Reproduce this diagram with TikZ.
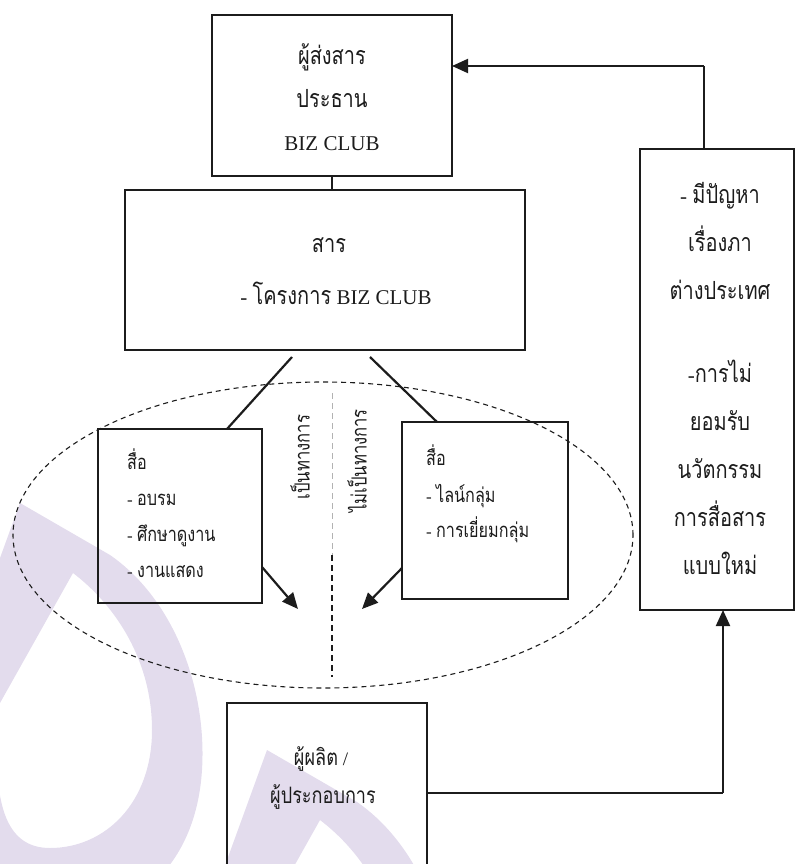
\documentclass[tikz,border=0pt]{standalone}
\usepackage{fontspec}
\setmainfont{Liberation Serif}
\newfontfamily\thaifont[Script=Thai,FakeStretch=0.8,Scale=1.19]{Loma}
\usetikzlibrary{arrows.meta}
\definecolor{ink}{RGB}{28,28,28}
\definecolor{wmark}{RGB}{227,220,237}
\tikzset{
  box/.style={draw=ink, line width=2.6pt, inner sep=0pt, outer sep=0pt},
  link/.style={draw=ink, line width=2.2pt},
  fine/.style={draw=ink, line width=1.2pt},
  heavy/.style={draw=ink, line width=2pt},
  head/.style={-{Triangle[length=16pt,width=14pt]}},
  txtL/.style={font=\fontsize{21}{25}\selectfont, inner sep=0pt, anchor=base, text=ink},
  txtM/.style={font=\fontsize{17}{20}\selectfont, inner sep=0pt, anchor=base west, text=ink},
  txtS/.style={font=\fontsize{19}{22}\selectfont, inner sep=0pt, anchor=base, text=ink},
  txtV/.style={font=\fontsize{17.5}{20}\selectfont, inner sep=0pt, rotate=90, text=ink},
  dashline/.style={line width=1.1pt, dash pattern=on 5pt off 4pt}
}
% faint logo watermark, tip at (#1,#2)
\newcommand{\wmlogo}[2]{%
  \fill[wmark, even odd rule, shift={(#1,#2)}]
    (0,0) -- (90,52) .. controls (155,97) and (187,187) .. (182,267)
    .. controls (175,380) and (90,430) .. (10,410)
    .. controls (-60,390) and (-80,300) .. (-60,165) -- cycle
    (53,70) .. controls (95,102) and (132,157) .. (132,227)
    .. controls (132,300) and (85,345) .. (30,345)
    .. controls (-15,345) and (-30,300) .. (-20,200) -- cycle;}
\begin{document}
\begin{tikzpicture}[x=1pt,y=-1pt]
\useasboundingbox (0,0) rectangle (795,864);
\clip (0,0) rectangle (795,864);

% watermark
\wmlogo{20}{503}
\wmlogo{267}{750}

% boxes
\node[box, minimum width=240pt, minimum height=161pt] (b1) at (332,95.5) {};
\node[box, minimum width=400pt, minimum height=160pt] (b2) at (325,270) {};
\node[box, minimum width=154pt, minimum height=461pt] (b3) at (717,379.5) {};
\node[box, minimum width=164pt, minimum height=174pt] (b4) at (180,516) {};
\node[box, minimum width=166pt, minimum height=177pt] (b5) at (485,510.5) {};
\node[box, minimum width=200pt, minimum height=180pt] (b6) at (327,793) {};

% sender
\node[txtL] (t1a) at (332,65) {\thaifont ผู้ส่งสาร};
\node[txtL] (t1b) at (332,107) {\thaifont ประธาน};
\node[txtL] (t1c) at (332,150) {BIZ CLUB};

% message
\node[txtL] (t2a) at (329,252) {\thaifont สาร};
\node[txtL] (t2b) at (336,304) {- {\thaifont โครงการ} BIZ CLUB};

% problems
\node[txtL] (t3a) at (720,203) {- {\thaifont มีปัญหา}};
\node[txtL] (t3b) at (720,251) {\thaifont เรื่องภา};
\node[txtL] (t3c) at (720,299) {\thaifont ต่างประเทศ};
\node[txtL] (t3d) at (720,382) {-{\thaifont การไม่}};
\node[txtL] (t3e) at (720,430) {\thaifont ยอมรับ};
\node[txtL] (t3f) at (720,478) {\thaifont นวัตกรรม};
\node[txtL] (t3g) at (720,526) {\thaifont การสื่อสาร};
\node[txtL] (t3h) at (720,574) {\thaifont แบบใหม่};

% formal media
\node[txtM] (t4a) at (127,469) {\thaifont สื่อ};
\node[txtM] (t4b) at (127,505) {- {\thaifont อบรม}};
\node[txtM] (t4c) at (127,541) {- {\thaifont ศึกษาดูงาน}};
\node[txtM] (t4d) at (127,577) {- {\thaifont งานแสดง}};

% informal media
\node[txtM] (t5a) at (426,465) {\thaifont สื่อ};
\node[txtM] (t5b) at (426,502) {- {\thaifont ไลน์กลุ่ม}};
\node[txtM] (t5c) at (426,537) {- {\thaifont การเยี่ยมกลุ่ม}};

% receiver
\node[txtS] (t6a) at (321,765) {{\thaifont ผู้ผลิต} /};
\node[txtS] (t6b) at (323,803) {\thaifont ผู้ประกอบการ};

% channel labels
\node[txtV] (v1) at (300,457) {\thaifont เป็นทางการ};
\node[txtV] (v2) at (357,461) {\thaifont ไม่เป็นทางการ};

% channel ellipse and divider
\draw[ink, dashline] (323,535) ellipse [x radius=310pt, y radius=153pt];
\coordinate (dvTop) at (332,393);
\coordinate (dvMid) at (332,555);
\coordinate (dvBot) at (332,677);
\draw[gray!60, line width=1pt, dash pattern=on 6pt off 4pt] (dvTop) -- (dvMid);
\draw[ink, line width=1.1pt, dash pattern=on 6pt off 4pt] (dvMid) -- (dvBot);

% message to media
\coordinate (s1) at (292,357);
\coordinate (e1) at (227,429);
\draw[link] (s1) -- (e1);
\coordinate (s2) at (370,357);
\coordinate (e2) at (437,422);
\draw[link] (s2) -- (e2);

% media to receiver
\coordinate (s3) at (262,567);
\coordinate (e3) at (298,609);
\draw[link, head] (s3) -- (e3);
\coordinate (s4) at (402,568);
\coordinate (e4) at (362,609);
\draw[link, head] (s4) -- (e4);

% feedback
\coordinate (fbTop) at (704,66);
\draw[fine] (b3.north -| fbTop) -- (fbTop);
\draw[heavy, head] (fbTop) -- (b1.east |- fbTop);
\draw[fine] (b1.south) -- (b2.north -| b1.south);
\coordinate (fbBot) at (723,793);
\draw[fine] (b6.east) -- (fbBot);
\draw[heavy, head] (fbBot) -- (b3.south -| fbBot);
\end{tikzpicture}
\end{document}
